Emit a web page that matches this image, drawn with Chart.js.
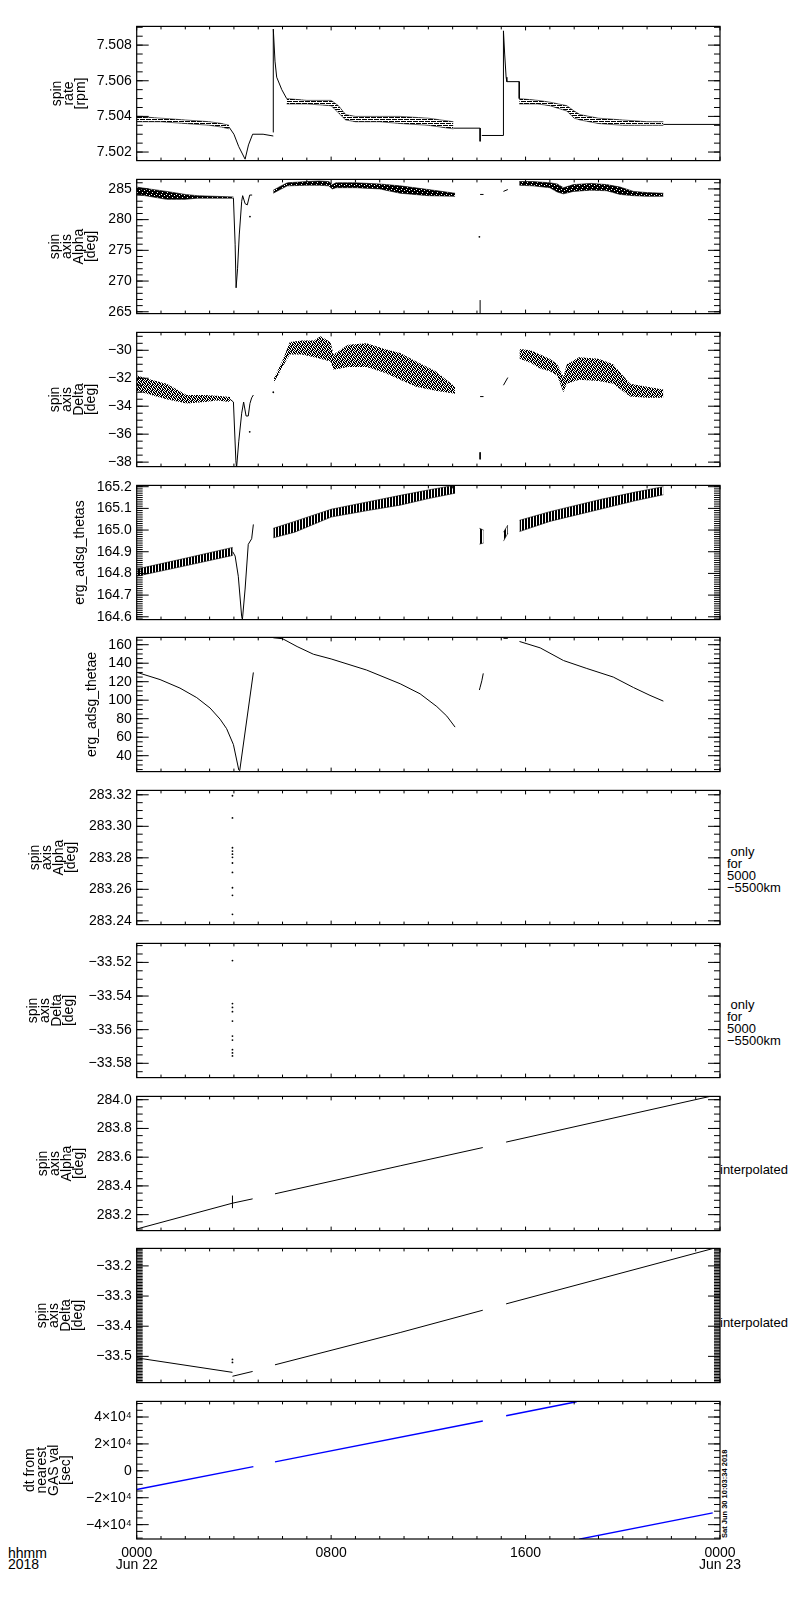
<!DOCTYPE html>
<html>
<head>
<meta charset="utf-8">
<script src="https://cdn.jsdelivr.net/npm/chart.js@4.4.1/dist/chart.umd.min.js"></script>
<style>
  body { margin: 0; background: #fff; width: 800px; height: 1600px; position: relative; overflow: hidden; font-family: "Liberation Sans", sans-serif; color: #000; }
  canvas { position: absolute; left: 0; }
  .note { position: absolute; font-size: 13px; line-height: 12px; white-space: pre; }
</style>
</head>
<body>
<div class="note" style="left:727px; top:846px;"> only
for
5000
−5500km</div>
<div class="note" style="left:727px; top:999px;"> only
for
5000
−5500km</div>
<div class="note" style="left:720px; top:1164px;">interpolated</div>
<div class="note" style="left:720px; top:1317px;">interpolated</div>
<div class="note" style="left:721px; top:1538px; font-size:7.5px; line-height:8px; font-weight:bold; transform-origin:0 0; transform:rotate(-90deg);">Sat Jun 30 10:03:34 2018</div>
<div class="note" style="left:8px; top:1548px; font-size:14px; line-height:11px;">hhmm
2018</div>
<script>
// time axis (hours since 0000 Jun 22)
const xTickHours = [0, 8, 16, 24];
const xTickLabels = [["0000", "Jun 22"], ["0800"], ["1600"], ["0000", "Jun 23"]];

// --- spin rate [rpm]
const rateTicks = [7.502, 7.504, 7.506, 7.508];
const rateTickLabels = ["7.502", "7.504", "7.506", "7.508"];
const rateBandAHours = [0, 1, 2, 3, 3.5, 3.8];
const rateBandALow = [7.5037, 7.5037, 7.5036, 7.5035, 7.5034, 7.5033];
const rateBandAHigh = [7.5040, 7.5039, 7.5038, 7.5037, 7.5036, 7.5035];
const rateDipHours = [3.8, 4.0, 4.2, 4.46, 4.6, 4.77, 5.2, 5.62];
const rateDipValues = [7.5034, 7.5030, 7.5023, 7.5016, 7.5024, 7.5030, 7.5030, 7.5029];
const rateSpikeAHours = [5.62, 5.62, 5.69, 5.76, 5.97, 6.17];
const rateSpikeAValues = [7.5031, 7.5089, 7.5071, 7.5062, 7.5055, 7.5050];
const rateBandBHours = [6.17, 7, 8.0, 8.3, 8.6, 9, 10, 10.84, 12, 13.03];
const rateBandBLow = [7.5047, 7.5047, 7.5046, 7.5042, 7.5038, 7.5037, 7.5037, 7.5036, 7.5035, 7.5033];
const rateBandBHigh = [7.5050, 7.5049, 7.5049, 7.5046, 7.5041, 7.5040, 7.5040, 7.5040, 7.5039, 7.5037];
const rateFlatAHours = [13.03, 14.13, 14.13];
const rateFlatAValues = [7.50334, 7.50334, 7.5026];
const rateSpikeBHours = [14.2, 15.09, 15.09, 15.14, 15.2, 15.23, 15.74, 15.74];
const rateSpikeBValues = [7.50293, 7.50293, 7.5088, 7.5075, 7.5062, 7.50595, 7.50595, 7.5050];
const rateBandCHours = [15.74, 16.5, 17.0, 17.7, 18.0, 18.24, 19, 20, 21, 21.67];
const rateBandCLow = [7.5047, 7.5047, 7.5046, 7.5043, 7.5039, 7.5038, 7.5036, 7.5035, 7.5035, 7.5035];
const rateBandCHigh = [7.5050, 7.5049, 7.5048, 7.5046, 7.5043, 7.5041, 7.5039, 7.5038, 7.5037, 7.5037];
const rateFlatCHours = [21.67, 24];
const rateFlatCValues = [7.50355, 7.50355];

// --- spin axis Alpha [deg]
const alphaTicks = [265, 270, 275, 280, 285];
const alphaTickLabels = ["265", "270", "275", "280", "285"];
const alphaBandAHours = [0, 0.5, 1.23, 2, 2.5, 3.2, 3.98];
const alphaBandALow = [284.1, 283.8, 283.3, 283.3, 283.5, 283.5, 283.5];
const alphaBandAHigh = [285.3, 285.0, 284.6, 284.1, 283.9, 283.8, 283.7];
const alphaDipHours = [3.98, 4.05, 4.09, 4.15, 4.22, 4.32, 4.36, 4.46, 4.55, 4.65, 4.75];
const alphaDipValues = [283.5, 276, 268.9, 272, 277.5, 283.0, 283.9, 282.6, 282.4, 284.0, 284.0];
const alphaBandBHours = [5.62, 5.9, 6.2, 7.0, 7.5, 7.9, 8.05, 8.2, 9, 10, 10.84, 12, 13.1];
const alphaBandBLow = [284.3, 284.9, 285.5, 285.6, 285.6, 285.5, 285.0, 285.2, 285.2, 285.0, 284.3, 283.9, 283.8];
const alphaBandBHigh = [284.8, 285.4, 286.0, 286.2, 286.3, 286.2, 285.7, 286.0, 286.0, 285.8, 285.5, 284.9, 284.3];
const alphaBandCHours = [15.74, 16.3, 17.0, 17.3, 17.56, 17.97, 18.7, 19.34, 19.89, 20.44, 21.0, 21.67];
const alphaBandCLow = [285.6, 285.5, 285.2, 284.5, 284.2, 284.6, 284.8, 284.7, 284.1, 283.9, 283.8, 283.8];
const alphaBandCHigh = [286.2, 286.2, 286.0, 285.8, 285.2, 285.7, 285.9, 285.7, 285.3, 284.6, 284.4, 284.3];
const alphaBitAHours = [14.13, 14.27];
const alphaBitAValues = [284.1, 284.1];
const alphaBitBHours = [14.13, 14.13];
const alphaBitBValues = [264.7, 266.9];
const alphaBitCHours = [15.09, 15.27];
const alphaBitCValues = [284.6, 284.9];
const alphaDotHours = [4.66, 14.1];
const alphaDotValues = [280.5, 277.2];

// --- spin axis Delta [deg]
const deltaTicks = [-38, -36, -34, -32, -30];
const deltaTickLabels = ["−38", "−36", "−34", "−32", "−30"];
const deltaBandAHours = [0, 0.6, 1.23, 2.06, 2.8, 3.29, 3.84];
const deltaBandALow = [-32.9, -33.2, -33.5, -33.8, -33.7, -33.6, -33.7];
const deltaBandAHigh = [-31.8, -32.1, -32.4, -33.2, -33.2, -33.25, -33.35];
const deltaDipHours = [3.84, 3.98, 4.08, 4.11, 4.2, 4.32, 4.4, 4.5, 4.59, 4.66, 4.73, 4.8];
const deltaDipValues = [-33.5, -33.7, -37.9, -38.4, -36.5, -34.5, -33.7, -34.7, -34.7, -33.8, -33.4, -33.2];
const deltaBandBHours = [5.65, 6.03, 6.3, 6.8, 7.3, 7.56, 7.97, 8.1, 8.7, 9.46, 10.2, 10.84, 11.5, 12.3, 13.1];
const deltaBandBLow = [-32.3, -31.1, -30.3, -30.3, -30.5, -30.6, -30.8, -31.4, -31.2, -31.2, -31.6, -32.1, -32.6, -32.9, -33.1];
const deltaBandBHigh = [-32.0, -30.6, -29.4, -29.3, -29.3, -29.0, -29.4, -30.3, -29.6, -29.5, -29.9, -30.2, -30.8, -31.5, -32.6];
const deltaBandCHours = [15.75, 16.2, 16.6, 17.0, 17.3, 17.56, 17.7, 18.2, 19.0, 19.6, 20.3, 21.0, 21.67];
const deltaBandCLow = [-30.6, -30.9, -31.3, -31.5, -31.8, -33.0, -32.4, -32.1, -32.2, -32.4, -33.3, -33.4, -33.4];
const deltaBandCHigh = [-29.9, -30.0, -30.3, -30.6, -31.0, -31.9, -31.0, -30.5, -30.6, -31.0, -32.4, -32.6, -32.8];
const deltaBitAHours = [14.13, 14.27];
const deltaBitAValues = [-33.31, -33.31];
const deltaBitBHours = [14.13, 14.13];
const deltaBitBValues = [-37.3, -37.8];
const deltaBitCHours = [15.09, 15.27];
const deltaBitCValues = [-32.5, -31.95];
const deltaDotHours = [4.65, 5.62];
const deltaDotValues = [-35.83, -33.0];

// --- erg_adsg_thetas
const thetasTicks = [164.6, 164.7, 164.8, 164.9, 165.0, 165.1, 165.2];
const thetasTickLabels = ["164.6", "164.7", "164.8", "164.9", "165.0", "165.1", "165.2"];
const thetasBandAHours = [0, 2, 3.95];
const thetasBandALow = [164.787, 164.835, 164.883];
const thetasBandAHigh = [164.82, 164.87, 164.92];
const thetasDipHours = [3.95, 4.05, 4.18, 4.32, 4.35, 4.46, 4.59, 4.73, 4.8];
const thetasDipValues = [164.90, 164.88, 164.787, 164.60, 164.588, 164.728, 164.934, 164.96, 165.026];
const thetasBandBHours = [5.62, 6.5, 8.0, 9.5, 10.84, 12.0, 13.1];
const thetasBandBLow = [164.964, 164.99, 165.06, 165.09, 165.115, 165.145, 165.17];
const thetasBandBHigh = [165.008, 165.04, 165.096, 165.13, 165.16, 165.185, 165.207];
const thetasBitAHours = [14.1, 14.27];
const thetasBitALow = [164.935, 164.94];
const thetasBitAHigh = [165.008, 165.0];
const thetasBitBHours = [15.09, 15.27];
const thetasBitBLow = [164.949, 164.985];
const thetasBitBHigh = [164.99, 165.023];
const thetasBandCHours = [15.75, 17.0, 19.07, 20.5, 21.67];
const thetasBandCLow = [164.993, 165.04, 165.096, 165.135, 165.163];
const thetasBandCHigh = [165.045, 165.085, 165.141, 165.175, 165.2];

// --- erg_adsg_thetae
const thetaeTicks = [40, 60, 80, 100, 120, 140, 160];
const thetaeTickLabels = ["40", "60", "80", "100", "120", "140", "160"];
const thetaeAHours = [0, 0.96, 1.78, 2.47, 3.02, 3.43, 3.70, 3.98, 4.20, 4.24, 4.80];
const thetaeAValues = [130.2, 122.3, 113.1, 102.8, 91.5, 79.5, 69.2, 52, 24.6, 24.0, 130];
const thetaeBHours = [5.62, 6.0, 6.6, 7.27, 8.0, 9.46, 10.84, 11.66, 12.35, 12.76, 13.1];
const thetaeBValues = [167.5, 166.5, 158, 149.7, 144.6, 132.6, 117.8, 106.9, 93.1, 82.8, 70.9];
const thetaeCHours = [14.1, 14.13, 14.2, 14.26];
const thetaeCValues = [111, 114, 121, 129];
const thetaeDHours = [15.09, 15.27];
const thetaeDValues = [166.9, 166.9];
const thetaeEHours = [15.75, 16.6, 17.56, 18.52, 19.61, 20.44, 21.12, 21.67];
const thetaeEValues = [163.5, 156.6, 142.9, 134.3, 125, 113.7, 105.2, 99];

// --- spin axis Alpha, only for 5000-5500km
const onlyAlphaTicks = [283.24, 283.26, 283.28, 283.30, 283.32];
const onlyAlphaTickLabels = ["283.24", "283.26", "283.28", "283.30", "283.32"];
const onlyAlphaHours = [3.94, 3.94, 3.94, 3.94, 3.94, 3.94, 3.94, 3.94, 3.94, 3.94, 3.94];
const onlyAlphaValues = [283.3194, 283.3053, 283.2864, 283.2843, 283.2823, 283.2803, 283.2767, 283.2707, 283.261, 283.2562, 283.2441];

// --- spin axis Delta, only for 5000-5500km
const onlyDeltaTicks = [-33.58, -33.56, -33.54, -33.52];
const onlyDeltaTickLabels = ["−33.58", "−33.56", "−33.54", "−33.52"];
const onlyDeltaHours = [3.94, 3.94, 3.94, 3.94, 3.94, 3.94, 3.94, 3.94, 3.94, 3.94];
const onlyDeltaValues = [-33.5189, -33.5445, -33.5468, -33.5493, -33.5549, -33.5638, -33.5662, -33.5719, -33.5738, -33.5756];

// --- spin axis Alpha, interpolated
const interpAlphaTicks = [283.2, 283.4, 283.6, 283.8, 284.0];
const interpAlphaTickLabels = ["283.2", "283.4", "283.6", "283.8", "284.0"];
const interpAlphaAHours = [0, 3.94, 4.77];
const interpAlphaAValues = [283.10, 283.28, 283.31];
const interpAlphaBHours = [3.94, 3.94];
const interpAlphaBValues = [283.245, 283.333];
const interpAlphaCHours = [5.69, 10.84, 14.24];
const interpAlphaCValues = [283.345, 283.54, 283.667];
const interpAlphaDHours = [15.2, 23.59, 24];
const interpAlphaDValues = [283.705, 284.023, 284.04];

// --- spin axis Delta, interpolated
const interpDeltaTicks = [-33.5, -33.4, -33.3, -33.2];
const interpDeltaTickLabels = ["−33.5", "−33.4", "−33.3", "−33.2"];
const interpDeltaAHours = [0, 3.94];
const interpDeltaAValues = [-33.505, -33.553];
const interpDeltaBHours = [3.94, 4.77];
const interpDeltaBValues = [-33.566, -33.55];
const interpDeltaCHours = [5.69, 10.84, 14.24];
const interpDeltaCValues = [-33.528, -33.421, -33.347];
const interpDeltaDHours = [15.2, 23.73, 24];
const interpDeltaDValues = [-33.326, -33.142, -33.136];
const interpDeltaDotHours = [3.94, 3.94];
const interpDeltaDotValues = [-33.51, -33.52];

// --- dt from nearest GAS val [sec]
const dtTicks = [-40000, -20000, 0, 20000, 40000];
const dtTickLabels = ["−4×10⁴", "−2×10⁴", "0", "2×10⁴", "4×10⁴"];
const dtAHours = [0, 4.8];
const dtAValues = [-13880, 3100];
const dtBHours = [5.69, 14.24];
const dtBValues = [6640, 37000];
const dtCHours = [15.2, 18.1];
const dtCValues = [40900, 51300];
const dtDHours = [18.2, 23.7];
const dtDValues = [-50800, -31200];

const panelTops = [23, 176, 329, 482, 634, 787, 940, 1093, 1245, 1398];
const panelHeight = 141;
const fontFamily = '"Liberation Sans", sans-serif';

// small pixel textures so the dense point clouds look dotted like the original
function texture(rows) {
    const c = document.createElement("canvas");
    c.width = rows[0].length;
    c.height = rows.length;
    const g = c.getContext("2d");
    g.fillStyle = "#000";
    rows.forEach((r, y) => {
        for (let x = 0; x < r.length; x++) {
            if (r[x] === "x") g.fillRect(x, y, 1, 1);
        }
    });
    return g.createPattern(c, "repeat");
}

const dashTex = texture(["xxxx.x", "......", "x.xxxx", "......"]);
const denseTex = texture(["xxxxx", "xx.xx", "xxxxx", "x.xxx", "xxxx."]);
const speckTex = texture(["x.xx.", ".xx.x", "xx.x.", ".x.xx", "x.x.x"]);
const combTex = texture(["xx.", "xx.", "xx."]);

function pts(hours, values) {
    return hours.map((h, i) => ({ x: h, y: values[i] }));
}

function line(hours, values, color) {
    return {
        data: pts(hours, values),
        borderColor: color || "#000",
        borderWidth: color ? 1.4 : 1,
        pointRadius: 0,
        fill: false
    };
}

function dots(hours, values) {
    return {
        data: pts(hours, values),
        showLine: false,
        pointRadius: 0.9,
        pointBorderWidth: 0,
        pointBackgroundColor: "#000"
    };
}

function band(hours, low, high, shade, edge) {
    return [
        { data: pts(hours, low), borderColor: "#000", borderWidth: edge, pointRadius: 0, fill: false },
        { data: pts(hours, high), borderColor: "#000", borderWidth: edge, pointRadius: 0, fill: "-1", backgroundColor: shade }
    ];
}

// IDL style frame with inward ticks on all four sides
const idlFrame = {
    id: "idlFrame",
    afterDraw(chart, args, opts) {
        const { ctx, chartArea: a, scales: { x, y } } = chart;
        ctx.save();
        ctx.strokeStyle = "#000";
        ctx.lineWidth = 1.2;
        ctx.strokeRect(a.left, a.top, a.right - a.left, a.bottom - a.top);
        ctx.lineWidth = 1;
        ctx.beginPath();
        for (let h = 0; h <= 24; h++) {
            const px = x.getPixelForValue(h);
            const len = h % 8 === 0 ? 4 : 3;
            ctx.moveTo(px, a.top); ctx.lineTo(px, a.top + len);
            ctx.moveTo(px, a.bottom); ctx.lineTo(px, a.bottom - len);
        }
        const k0 = Math.ceil(y.min / opts.minor - 1e-6);
        const k1 = Math.floor(y.max / opts.minor + 1e-6);
        for (let k = k0; k <= k1; k++) {
            const py = y.getPixelForValue(k * opts.minor);
            ctx.moveTo(a.left, py); ctx.lineTo(a.left + 6, py);
            ctx.moveTo(a.right, py); ctx.lineTo(a.right - 6, py);
        }
        y.ticks.forEach(t => {
            const py = y.getPixelForValue(t.value);
            ctx.moveTo(a.left, py); ctx.lineTo(a.left + 12, py);
            ctx.moveTo(a.right, py); ctx.lineTo(a.right - 12, py);
        });
        ctx.stroke();
        ctx.restore();
    }
};
Chart.register(idlFrame);

const panels = [
    {
        title: ["spin", "rate", "[rpm]"], titleX: 57, min: 7.50152, max: 7.50905, minor: 0.0005,
        ticks: rateTicks, labels: rateTickLabels,
        datasets: [
            ...band(rateBandAHours, rateBandALow, rateBandAHigh, dashTex, 0.6),
            line(rateDipHours, rateDipValues),
            line(rateSpikeAHours, rateSpikeAValues),
            ...band(rateBandBHours, rateBandBLow, rateBandBHigh, dashTex, 0.6),
            line(rateFlatAHours, rateFlatAValues),
            line(rateSpikeBHours, rateSpikeBValues),
            ...band(rateBandCHours, rateBandCLow, rateBandCHigh, dashTex, 0.6),
            line(rateFlatCHours, rateFlatCValues)
        ]
    },
    {
        title: ["spin", "axis", "Alpha", "[deg]"], titleX: 55, min: 264.7, max: 286.55, minor: 1,
        ticks: alphaTicks, labels: alphaTickLabels,
        datasets: [
            ...band(alphaBandAHours, alphaBandALow, alphaBandAHigh, denseTex, 0.6),
            line(alphaDipHours, alphaDipValues),
            ...band(alphaBandBHours, alphaBandBLow, alphaBandBHigh, denseTex, 0.6),
            ...band(alphaBandCHours, alphaBandCLow, alphaBandCHigh, denseTex, 0.6),
            line(alphaBitAHours, alphaBitAValues),
            line(alphaBitBHours, alphaBitBValues),
            line(alphaBitCHours, alphaBitCValues),
            dots(alphaDotHours, alphaDotValues)
        ]
    },
    {
        title: ["spin", "axis", "Delta", "[deg]"], titleX: 55, min: -38.32, max: -28.72, minor: 0.5,
        ticks: deltaTicks, labels: deltaTickLabels,
        datasets: [
            ...band(deltaBandAHours, deltaBandALow, deltaBandAHigh, speckTex, 0),
            line(deltaDipHours, deltaDipValues),
            ...band(deltaBandBHours, deltaBandBLow, deltaBandBHigh, speckTex, 0),
            ...band(deltaBandCHours, deltaBandCLow, deltaBandCHigh, speckTex, 0),
            line(deltaBitAHours, deltaBitAValues),
            line(deltaBitBHours, deltaBitBValues),
            line(deltaBitCHours, deltaBitCValues),
            dots(deltaDotHours, deltaDotValues)
        ]
    },
    {
        title: ["erg_adsg_thetas"], titleX: 80, min: 164.587, max: 165.206, minor: 0.01,
        ticks: thetasTicks, labels: thetasTickLabels,
        datasets: [
            ...band(thetasBandAHours, thetasBandALow, thetasBandAHigh, combTex, 0.6),
            line(thetasDipHours, thetasDipValues),
            ...band(thetasBandBHours, thetasBandBLow, thetasBandBHigh, combTex, 0.6),
            ...band(thetasBitAHours, thetasBitALow, thetasBitAHigh, combTex, 0.6),
            ...band(thetasBitBHours, thetasBitBLow, thetasBitBHigh, combTex, 0.6),
            ...band(thetasBandCHours, thetasBandCLow, thetasBandCHigh, combTex, 0.6)
        ]
    },
    {
        title: ["erg_adsg_thetae"], titleX: 92, min: 22.8, max: 167.9, minor: 5,
        ticks: thetaeTicks, labels: thetaeTickLabels,
        datasets: [
            line(thetaeAHours, thetaeAValues),
            line(thetaeBHours, thetaeBValues),
            line(thetaeCHours, thetaeCValues),
            line(thetaeDHours, thetaeDValues),
            line(thetaeEHours, thetaeEValues)
        ]
    },
    {
        title: ["spin", "axis", "Alpha", "[deg]"], titleX: 35, min: 283.2376, max: 283.3228, minor: 0.005,
        ticks: onlyAlphaTicks, labels: onlyAlphaTickLabels,
        datasets: [dots(onlyAlphaHours, onlyAlphaValues)]
    },
    {
        title: ["spin", "axis", "Delta", "[deg]"], titleX: 33, min: -33.5885, max: -33.5087, minor: 0.005,
        ticks: onlyDeltaTicks, labels: onlyDeltaTickLabels,
        datasets: [dots(onlyDeltaHours, onlyDeltaValues)]
    },
    {
        title: ["spin", "axis", "Alpha", "[deg]"], titleX: 43, min: 283.089, max: 284.023, minor: 0.05,
        ticks: interpAlphaTicks, labels: interpAlphaTickLabels,
        datasets: [
            line(interpAlphaAHours, interpAlphaAValues),
            line(interpAlphaBHours, interpAlphaBValues),
            line(interpAlphaCHours, interpAlphaCValues),
            line(interpAlphaDHours, interpAlphaDValues)
        ]
    },
    {
        title: ["spin", "axis", "Delta", "[deg]"], titleX: 42, min: -33.587, max: -33.142, minor: 0.005,
        ticks: interpDeltaTicks, labels: interpDeltaTickLabels,
        datasets: [
            line(interpDeltaAHours, interpDeltaAValues),
            line(interpDeltaBHours, interpDeltaBValues),
            line(interpDeltaCHours, interpDeltaCValues),
            line(interpDeltaDHours, interpDeltaDValues),
            dots(interpDeltaDotHours, interpDeltaDotValues)
        ]
    },
    {
        title: ["dt from", "nearest", "GAS val", "[sec]"], titleX: 30, min: -50660, max: 51600, minor: 5000,
        ticks: dtTicks, labels: dtTickLabels,
        datasets: [
            line(dtAHours, dtAValues, "#0000ff"),
            line(dtBHours, dtBValues, "#0000ff"),
            line(dtCHours, dtCValues, "#0000ff"),
            line(dtDHours, dtDValues, "#0000ff")
        ]
    }
];

panels.forEach((p, i) => {
    const bottom = i === panels.length - 1;
    const canvas = document.createElement("canvas");
    canvas.width = 800;
    canvas.height = panelHeight + 20 + (bottom ? 40 : 0);
    canvas.style.top = (panelTops[i] - 10) + "px";
    document.body.appendChild(canvas);

    const titleLine = 14 * 0.85;

    new Chart(canvas, {
        type: "line",
        data: { datasets: p.datasets },
        options: {
            responsive: false,
            animation: false,
            devicePixelRatio: 1,
            layout: { padding: { left: 0, right: 80, top: 10, bottom: 10 } },
            elements: { line: { tension: 0 } },
            plugins: {
                legend: { display: false },
                tooltip: { enabled: false },
                idlFrame: { minor: p.minor }
            },
            scales: {
                x: {
                    type: "linear",
                    min: 0,
                    max: 24,
                    display: bottom,
                    afterFit: bottom ? (s => { s.height = 40; }) : undefined,
                    afterBuildTicks: s => { s.ticks = xTickHours.map(v => ({ value: v })); },
                    grid: { display: false, drawTicks: false },
                    border: { display: false },
                    ticks: {
                        callback: (v, idx) => xTickLabels[idx],
                        autoSkip: false,
                        maxRotation: 0,
                        padding: 9,
                        color: "#000",
                        font: { family: fontFamily, size: 14, lineHeight: 0.8 }
                    }
                },
                y: {
                    type: "linear",
                    min: p.min,
                    max: p.max,
                    afterFit: s => { s.width = 136.7; },
                    afterBuildTicks: s => { s.ticks = p.ticks.map(v => ({ value: v })); },
                    grid: { display: false, drawTicks: false },
                    border: { display: false },
                    ticks: {
                        callback: (v, idx) => p.labels[idx],
                        autoSkip: false,
                        padding: 5,
                        color: "#000",
                        font: { family: fontFamily, size: 14 }
                    },
                    title: {
                        display: true,
                        text: p.title,
                        color: "#000",
                        font: { family: fontFamily, size: 14, lineHeight: 0.85 },
                        padding: { top: p.titleX - titleLine / 2, bottom: 0 }
                    }
                }
            }
        }
    });
});
</script>
</body>
</html>
